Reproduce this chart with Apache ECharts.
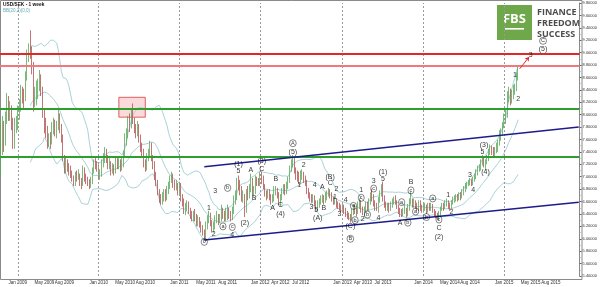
<!DOCTYPE html>
<html><head><meta charset="utf-8">
<script src="https://cdn.jsdelivr.net/npm/echarts@6/dist/echarts.min.js"></script>
<style>html,body{margin:0;padding:0;background:#fff;overflow:hidden}#c{width:600px;height:287px}</style>
</head><body><div id="c"></div>
<script>
// ---------- DATA ----------
const startDate = '2008-10-19';   // first weekly bar
const totalWeeks = 373;           // axis extends into empty future space
const firstOpen = 7.05;

const close2008 = [7.62,7.70,7.58,7.92,8.18,8.02,8.10,7.88,7.52,7.80,7.82];
const high2008  = [7.95,7.98,7.90,8.05,8.35,8.30,8.22,8.15,7.95,7.95,7.98];
const low2008   = [7.00,7.35,7.40,7.50,7.85,7.90,7.90,7.75,7.45,7.45,7.70];

const close2009 = [8.02,8.12,8.35,8.30,8.28,8.62,8.95,9.08,9.02,8.75,8.25,8.30,8.35,8.45,8.52,8.40,8.05,7.85,7.75,7.55,7.62,7.58,7.75,7.85,7.72,7.80,7.98,7.80,7.62,7.30,7.12,7.20,7.15,7.10,7.05,6.98,6.92,7.02,7.00,7.02,6.92,6.88,7.12,6.98,6.95,6.90,6.86,6.92,7.10,7.22,7.20,7.15];
const high2009  = [8.15,8.25,8.48,8.45,8.42,8.70,9.05,9.15,9.36,9.10,8.85,8.45,8.55,8.58,8.72,8.65,8.45,8.10,7.95,7.82,7.70,7.72,7.88,7.95,7.92,7.90,8.10,8.02,7.85,7.68,7.35,7.30,7.28,7.22,7.18,7.10,7.02,7.08,7.10,7.12,7.05,6.98,7.18,7.15,7.05,7.00,6.96,7.00,7.15,7.28,7.30,7.25];
const low2009   = [7.75,7.92,8.05,8.18,8.10,8.22,8.55,8.85,8.90,8.65,8.05,8.12,8.15,8.25,8.38,8.30,7.95,7.70,7.62,7.45,7.48,7.45,7.52,7.68,7.65,7.62,7.75,7.70,7.55,7.25,7.05,7.05,7.08,7.02,6.98,6.92,6.85,6.85,6.92,6.95,6.85,6.80,6.85,6.92,6.88,6.85,6.80,6.82,6.88,7.05,7.12,7.08];

const close2010 = [7.02,7.05,7.22,7.30,7.35,7.30,7.20,7.22,7.10,7.15,7.10,7.25,7.20,7.22,7.15,7.22,7.35,7.62,7.70,7.90,7.82,8.02,7.90,7.78,7.72,7.80,7.62,7.48,7.40,7.22,7.15,7.32,7.38,7.50,7.30,7.20,7.02,6.90,6.75,6.62,6.60,6.68,6.72,6.70,6.78,6.85,6.95,7.00,6.90,6.85,6.86,6.75];
const high2010  = [7.20,7.12,7.28,7.38,7.48,7.45,7.35,7.30,7.25,7.22,7.20,7.32,7.30,7.30,7.28,7.30,7.42,7.70,7.78,7.98,8.02,8.10,8.18,7.95,7.85,7.90,7.85,7.68,7.55,7.45,7.28,7.38,7.45,7.58,7.55,7.35,7.25,7.08,6.95,6.80,6.72,6.75,6.80,6.80,6.85,6.92,7.02,7.08,7.05,6.95,6.95,6.90];
const low2010   = [6.95,6.95,7.00,7.15,7.22,7.22,7.12,7.12,7.02,7.05,7.02,7.05,7.12,7.12,7.08,7.10,7.15,7.30,7.50,7.62,7.72,7.78,7.85,7.70,7.62,7.65,7.55,7.40,7.32,7.15,7.08,7.10,7.25,7.32,7.25,7.12,6.95,6.85,6.70,6.58,6.55,6.55,6.60,6.60,6.62,6.72,6.80,6.90,6.82,6.78,6.78,6.70];

const close2011 = [6.85,6.65,6.60,6.45,6.50,6.55,6.45,6.38,6.35,6.38,6.35,6.25,6.30,6.22,6.15,6.12,6.05,6.22,6.30,6.38,6.25,6.15,6.20,6.32,6.35,6.30,6.32,6.45,6.40,6.35,6.40,6.45,6.40,6.35,6.45,6.62,6.68,6.90,6.85,6.80,6.65,6.70,6.45,6.72,6.70,6.80,6.95,6.75,6.78,6.95,6.92,6.90];
const high2011  = [6.92,6.90,6.72,6.65,6.58,6.62,6.60,6.50,6.45,6.45,6.48,6.40,6.38,6.35,6.28,6.22,6.15,6.28,6.38,6.45,6.42,6.30,6.28,6.38,6.45,6.40,6.40,6.55,6.50,6.45,6.50,6.55,6.50,6.45,6.52,6.70,6.78,6.98,7.02,6.95,6.85,6.78,6.72,6.80,6.85,6.88,7.05,6.98,6.85,7.02,7.00,6.98];
const low2011   = [6.70,6.60,6.52,6.40,6.38,6.45,6.40,6.32,6.28,6.28,6.28,6.20,6.20,6.18,6.10,6.05,5.98,6.00,6.15,6.25,6.20,6.10,6.10,6.15,6.25,6.22,6.25,6.28,6.32,6.28,6.28,6.30,6.32,6.28,6.30,6.40,6.55,6.62,6.78,6.70,6.60,6.58,6.35,6.42,6.62,6.65,6.75,6.70,6.68,6.72,6.85,6.85];

const close2012 = [7.00,6.98,6.85,6.72,6.70,6.72,6.68,6.62,6.65,6.78,6.80,6.70,6.62,6.65,6.78,6.82,6.75,6.85,6.95,7.12,7.22,7.28,7.10,7.02,7.00,6.92,7.02,7.05,6.95,6.92,6.78,6.70,6.65,6.62,6.65,6.58,6.50,6.55,6.58,6.62,6.65,6.60,6.68,6.70,6.75,6.72,6.65,6.60,6.62,6.55,6.52,6.50,6.48];
const high2012  = [7.08,7.08,7.02,6.88,6.78,6.80,6.80,6.72,6.72,6.85,6.85,6.82,6.75,6.72,6.82,6.88,6.88,6.92,7.00,7.18,7.28,7.35,7.30,7.15,7.10,7.08,7.10,7.12,7.08,7.02,6.95,6.82,6.75,6.72,6.72,6.70,6.62,6.62,6.65,6.70,6.72,6.70,6.75,6.78,6.82,6.80,6.75,6.68,6.68,6.65,6.60,6.58,6.55];
const low2012   = [6.85,6.88,6.80,6.68,6.62,6.65,6.62,6.55,6.58,6.60,6.70,6.65,6.55,6.52,6.62,6.72,6.70,6.72,6.80,6.90,7.08,7.15,7.05,6.95,6.92,6.88,6.88,6.95,6.90,6.85,6.72,6.65,6.60,6.58,6.58,6.52,6.45,6.45,6.50,6.55,6.58,6.55,6.58,6.62,6.68,6.65,6.60,6.55,6.55,6.50,6.48,6.45,6.42];

const close2013 = [6.50,6.45,6.40,6.38,6.35,6.32,6.42,6.48,6.45,6.42,6.52,6.55,6.48,6.42,6.45,6.55,6.50,6.60,6.70,6.65,6.58,6.52,6.50,6.62,6.72,6.78,6.65,6.55,6.50,6.52,6.48,6.55,6.58,6.62,6.60,6.52,6.45,6.42,6.40,6.45,6.48,6.38,6.50,6.60,6.62,6.55,6.60,6.55,6.48,6.58,6.50,6.45];
const high2013  = [6.56,6.55,6.50,6.45,6.42,6.40,6.48,6.55,6.55,6.50,6.60,6.65,6.62,6.52,6.52,6.60,6.60,6.65,6.75,6.80,6.72,6.62,6.58,6.68,6.78,6.88,6.92,6.70,6.60,6.58,6.58,6.60,6.65,6.68,6.70,6.62,6.55,6.50,6.48,6.50,6.55,6.50,6.56,6.65,6.75,6.65,6.65,6.62,6.58,6.62,6.62,6.55];
const low2013   = [6.42,6.40,6.35,6.32,6.30,6.26,6.30,6.38,6.40,6.36,6.40,6.48,6.42,6.38,6.36,6.42,6.45,6.45,6.55,6.60,6.52,6.45,6.45,6.42,6.58,6.68,6.60,6.50,6.45,6.45,6.42,6.45,6.50,6.55,6.55,6.48,6.40,6.35,6.35,6.36,6.40,6.34,6.36,6.45,6.55,6.50,6.50,6.48,6.45,6.45,6.45,6.42];

const close2014 = [6.50,6.52,6.45,6.52,6.50,6.52,6.48,6.40,6.38,6.36,6.40,6.48,6.52,6.50,6.56,6.58,6.52,6.50,6.58,6.62,6.65,6.68,6.65,6.70,6.68,6.75,6.80,6.85,6.88,6.90,6.92,6.90,6.95,7.00,7.08,7.12,7.15,7.22,7.28,7.20,7.22,7.30,7.40,7.45,7.40,7.38,7.42,7.48,7.52,7.62,7.72,7.82];
const high2014  = [6.56,6.58,6.55,6.58,6.58,6.58,6.56,6.48,6.45,6.42,6.45,6.52,6.58,6.58,6.62,6.65,6.62,6.58,6.62,6.68,6.70,6.72,6.72,6.75,6.75,6.80,6.85,6.90,6.92,6.95,6.98,6.96,7.00,7.05,7.12,7.18,7.20,7.28,7.35,7.32,7.28,7.35,7.45,7.52,7.50,7.48,7.48,7.55,7.60,7.75,7.78,7.88];
const low2014   = [6.42,6.45,6.40,6.42,6.45,6.45,6.42,6.35,6.33,6.30,6.30,6.36,6.45,6.45,6.48,6.52,6.48,6.45,6.48,6.55,6.58,6.60,6.60,6.62,6.62,6.65,6.70,6.75,6.80,6.85,6.86,6.85,6.86,6.92,6.96,7.02,7.08,7.10,7.18,7.15,7.10,7.20,7.25,7.35,7.35,7.32,7.32,7.38,7.40,7.50,7.58,7.68];

const close2015 = [7.90,7.98,8.30,8.35,8.25,8.30,8.40,8.42,8.60,8.67];
const high2015  = [8.02,8.08,8.38,8.45,8.42,8.40,8.48,8.50,8.68,8.78];
const low2015   = [7.78,7.85,7.95,8.20,8.15,8.18,8.25,8.32,8.38,8.55];

const tickLabels = ['Jan 2009','May 2009','Aug 2009','Jan 2010','May 2010','Aug 2010','Jan 2011','May 2011','Aug 2011','Jan 2012','Apr 2012','Jul 2012','Jan 2013','Apr 2013','Jul 2013','Jan 2014','May 2014','Aug 2014','Jan 2015','May 2015','Aug 2015'];

// horizontal levels and channel lines (price values)
const redLevels = [8.99, 8.79];
const greenLevels = [8.09, 7.32];
const channelUpper = [[131, 7.16], [372, 7.80]];
const channelLower = [[131, 5.98], [372, 6.59]];
const boxZone = [[76, 8.28], [93, 7.96]];
const targetArrow = [[334, 8.74], [340, 8.93]];

// Elliott wave labels: [bar index, price, text, circled]
const waveLabels = [
 [131,5.95,'0',1],[134,6.50,'1',0],[137,6.08,'2',0],[138,6.77,'3',0],[146,6.82,'b',1],[143,6.20,'a',1],[149,6.19,'c',1],[149,6.06,'4',0],
 [153,7.09,'5',0],[153,7.21,'(1)',0],[157,6.26,'(2)',0],[161,7.11,'A',0],[163,6.65,'B',0],[168,7.25,'(3)',0],[168,7.13,'C',0],
 [177,6.96,'B',0],[175,6.50,'A',0],[180,6.54,'C',0],[180,6.40,'(4)',0],[188,7.54,'A',1],[188,7.40,'(5)',0],
 [195,7.18,'2',0],[192,6.86,'1',0],[202,6.86,'4',0],[200,6.51,'3',0],[203,6.47,'5',0],[204,6.33,'(A)',0],
 [207,6.84,'A',0],[208,6.49,'B',0],[212,7.00,'(B)',0],[212,6.90,'C',0],[216,6.80,'2',0],[215,6.67,'1',0],[218,6.40,'3',0],[222,6.63,'4',0],
 [225,6.20,'(C)',0],[225,6.00,'B',1],[227,6.53,'a',1],[228,6.30,'b',1],[232,6.78,'1',0],[232,6.66,'c',1],[233,6.32,'2',0],[236,6.39,'b',1],
 [240,6.93,'3',0],[240,6.81,'c',1],[243,6.33,'4',0],[246,7.08,'(1)',0],[246,6.96,'5',0],
 [258,6.59,'a',1],[257,6.26,'A',0],[262,6.26,'b',1],[264,6.91,'B',0],[264,6.78,'c',1],[267,6.44,'a',1],[274,6.35,'b',1],[278,6.65,'a',1],
 [282,6.31,'c',1],[282,6.17,'C',0],[282,6.03,'(2)',0],[288,6.70,'1',0],[290,6.43,'2',0],[302,7.02,'3',0],[304,6.78,'4',0],
 [310,7.39,'5',0],[311,7.51,'(3)',0],[312,7.08,'(4)',0],[331,8.64,'1',0],[333,8.25,'2',0],[341,8.96,'3',0],[349,9.06,'(5)',0],[349,9.19,'C',1]
];

// ---------- BUILD ----------
const cats = [];
const d0 = new Date(startDate + 'T00:00:00Z');
for (let i = 0; i < totalWeeks; i++) cats.push(new Date(d0.getTime() + i * 7 * 864e5).toISOString().slice(0, 10));

const closes = [].concat(close2008, close2009, close2010, close2011, close2012, close2013, close2014, close2015);
const highs  = [].concat(high2008, high2009, high2010, high2011, high2012, high2013, high2014, high2015);
const lows   = [].concat(low2008, low2009, low2010, low2011, low2012, low2013, low2014, low2015);
const ohlc = closes.map((c, i) => [i === 0 ? firstOpen : closes[i - 1], c, lows[i], highs[i]]);

// Bollinger bands (20, 2) from closes
const bbMid = [], bbUp = [], bbLo = [];
for (let i = 0; i < closes.length; i++) {
  if (i < 19) { bbMid.push('-'); bbUp.push('-'); bbLo.push('-'); continue; }
  const w = closes.slice(i - 19, i + 1);
  const m = w.reduce((a, b) => a + b, 0) / 20;
  const sd = Math.sqrt(w.reduce((a, b) => a + (b - m) * (b - m), 0) / 20);
  bbMid.push(m); bbUp.push(m + 2 * sd); bbLo.push(m - 2 * sd);
}

const monthNum = {Jan:'01',Feb:'02',Mar:'03',Apr:'04',May:'05',Jun:'06',Jul:'07',Aug:'08',Sep:'09',Oct:'10',Nov:'11',Dec:'12'};
const labelAt = {};
const yearLines = [];
tickLabels.forEach(t => {
  const [m, y] = t.split(' ');
  const idx = cats.findIndex(c => c.startsWith(y + '-' + monthNum[m]));
  labelAt[idx] = t;
  if (m === 'Jan') yearLines.push(idx);
});

const waveData = waveLabels.map(([i, p, t, circ]) => ({
  value: [i, p],
  label: circ ? {formatter: t, fontSize: 5.5, borderColor: '#000', borderWidth: 0.6, borderRadius: 4, padding: [1, 1.5, 0, 1.5]} : {formatter: t}
}));

const last = closes.length - 1;
const chart = echarts.init(document.getElementById('c'), null, {renderer: 'canvas'});
chart.setOption({
  animation: false,
  backgroundColor: '#fff',
  grid: {left: 0, right: 18, top: 3, bottom: 11},
  xAxis: {
    type: 'category', data: cats, boundaryGap: true,
    axisLine: {show: false}, axisTick: {show: false}, splitLine: {show: false},
    axisLabel: {interval: i => labelAt[i] !== undefined, formatter: (v, i) => labelAt[i] || '', fontSize: 4.5, color: '#333', margin: 4, fontFamily: 'Liberation Sans'}
  },
  yAxis: {
    type: 'value', position: 'right', min: 5.4, max: 9.8, interval: 0.2, scale: true,
    splitLine: {show: false},
    axisLine: {show: true, lineStyle: {color: '#8a8a8a', width: 1}},
    axisTick: {show: true, length: 2, lineStyle: {color: '#666'}},
    minorTick: {show: true, splitNumber: 2, length: 1, lineStyle: {color: '#999'}},
    axisLabel: {fontSize: 4, color: '#333', margin: 3, formatter: v => v.toFixed(5), fontFamily: 'Liberation Sans'}
  },
  series: [
    {type: 'line', data: bbUp, symbol: 'none', lineStyle: {color: '#a9d2d8', width: 1}, silent: true, z: 1},
    {type: 'line', data: bbMid, symbol: 'none', lineStyle: {color: '#a9d2d8', width: 1}, silent: true, z: 1},
    {type: 'line', data: bbLo, symbol: 'none', lineStyle: {color: '#a9d2d8', width: 1}, silent: true, z: 1},
    {
      type: 'candlestick', data: ohlc, barWidth: 1, z: 3,
      itemStyle: {color: '#3d9a3d', color0: '#a33434', borderColor: '#5aa85a', borderColor0: '#b35252', borderWidth: 0.8},
      markLine: {
        silent: true, symbol: 'none',
        label: {show: false},
        data: [
          ...yearLines.map(i => ({xAxis: i, lineStyle: {color: '#9a9a9a', type: [2, 2], width: 1}})),
          ...redLevels.map((v, k) => ({yAxis: v, lineStyle: {color: k === 0 ? '#e4252a' : '#f07a7a', width: 2, type: 'solid'}})),
          ...greenLevels.map(v => ({yAxis: v, lineStyle: {color: '#2e9e2e', width: 2, type: 'solid'}})),
          [{coord: [channelUpper[0][0], channelUpper[0][1]], lineStyle: {color: '#1c1c8c', width: 1.5, type: 'solid'}}, {coord: [channelUpper[1][0], channelUpper[1][1]]}],
          [{coord: [channelLower[0][0], channelLower[0][1]], lineStyle: {color: '#1c1c8c', width: 1.5, type: 'solid'}}, {coord: [channelLower[1][0], channelLower[1][1]]}],
          [{coord: targetArrow[0], symbol: 'none', lineStyle: {color: '#e4252a', width: 1, type: 'solid'}}, {coord: targetArrow[1], symbol: 'arrow', symbolSize: 4}],
          {yAxis: closes[last], lineStyle: {opacity: 0}, label: {show: true, position: 'end', distance: 2, formatter: closes[last].toFixed(5), fontSize: 4, color: '#333', backgroundColor: '#fff', borderColor: '#777', borderWidth: 0.5, borderType: 'dashed', padding: [1, 1]}}
        ]
      },
      markArea: {
        silent: true,
        itemStyle: {color: 'rgba(240,150,150,0.35)', borderColor: '#e06060', borderWidth: 1},
        data: [[{coord: boxZone[0]}, {coord: boxZone[1]}]]
      }
    },
    {
      type: 'scatter', data: waveData, symbolSize: 0, z: 5, silent: true,
      label: {show: true, position: 'inside', color: '#000', fontSize: 7, fontFamily: 'Liberation Sans'}
    }
  ],
  graphic: [
    {type: 'rect', shape: {x: 0.5, y: 0.5, width: 581.5, height: 279}, style: {fill: 'none', stroke: '#8a8a8a', lineWidth: 1}, silent: true, z: 0},
    {type: 'text', x: 3, y: 2, style: {text: 'USD/SEK - 1 week', font: 'bold 4.8px "Liberation Sans"', fill: '#111'}},
    {type: 'text', x: 3, y: 8, style: {text: 'BB(20,2)(0,0)', font: '4.5px "Liberation Sans"', fill: '#5aaab5'}},
    {type: 'rect', shape: {x: 497, y: 5, width: 35, height: 35}, style: {fill: '#6fa84b'}},
    {type: 'text', x: 514.5, y: 19, style: {text: 'FBS', font: 'bold 13px "Open Sans"', fill: '#fff', align: 'center', verticalAlign: 'middle'}},
    {type: 'rect', shape: {x: 505, y: 28, width: 19, height: 1.6}, style: {fill: '#fff'}},
    {type: 'text', x: 537, y: 7.5, style: {text: 'FINANCE', font: 'bold 9px "Open Sans"', fill: '#4d4d4d'}},
    {type: 'text', x: 537, y: 18.5, style: {text: 'FREEDOM', font: 'bold 9px "Open Sans"', fill: '#4d4d4d'}},
    {type: 'text', x: 537, y: 29.5, style: {text: 'SUCCESS', font: 'bold 9px "Open Sans"', fill: '#4d4d4d'}}
  ]
});
</script></body></html>
